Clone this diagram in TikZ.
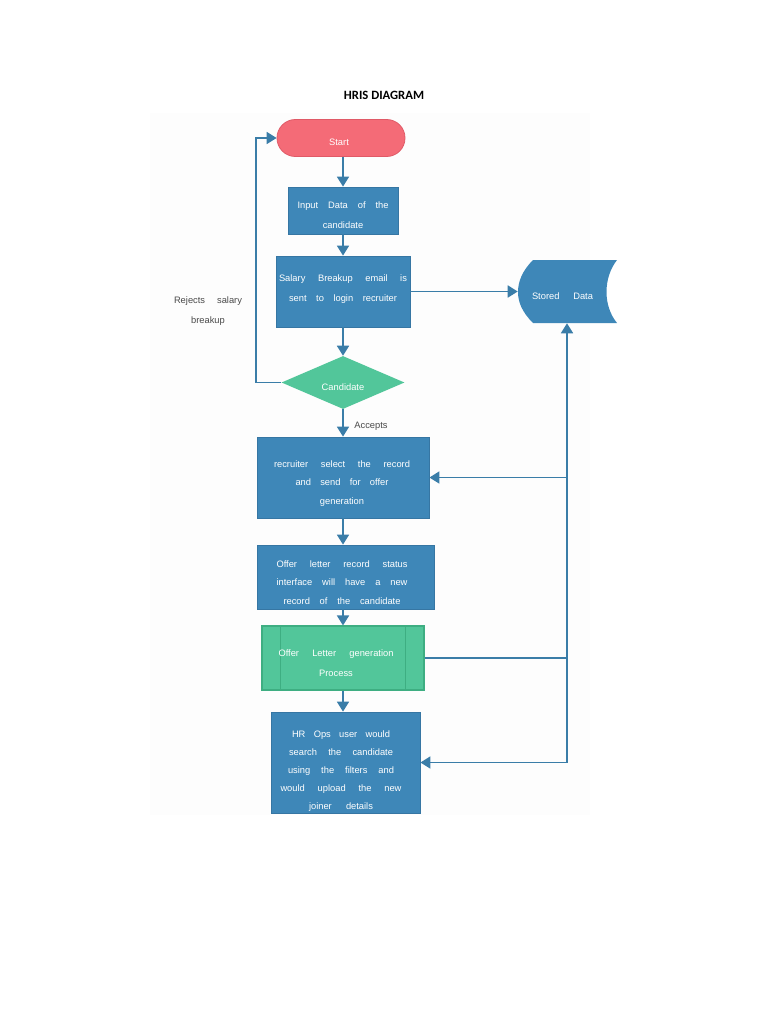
\documentclass[tikz,border=0pt]{standalone}
\usepackage{fontspec}
\setmainfont{Liberation Sans}
\newfontfamily\titlefont{Carlito}
\usetikzlibrary{arrows.meta,shapes.geometric}

\definecolor{boxblue}{HTML}{3E87B8}
\definecolor{boxedge}{HTML}{3676A3}
\definecolor{flowline}{HTML}{3A7DA8}
\definecolor{boxgreen}{HTML}{52C69A}
\definecolor{greenedge}{HTML}{3EAE82}
\definecolor{startred}{HTML}{F46B77}
\definecolor{startedge}{HTML}{E05A67}
\definecolor{labelgray}{HTML}{4A4A4A}

\begin{document}
\begin{tikzpicture}[x=0.75pt,y=-0.75pt,>={Triangle[width=9pt,length=7.5pt]},
	every node/.style={font=\fontsize{7}{15}\selectfont,text=white,align=center,inner sep=0pt},
	bluebox/.style={rectangle,draw=boxedge,fill=boxblue,line width=0.6pt},
	greenbox/.style={rectangle,draw=greenedge,fill=boxgreen,line width=0.8pt},
	startbox/.style={rectangle,rounded corners=13.8pt,draw=startedge,fill=startred,line width=0.6pt},
	decision/.style={diamond,shape aspect=2.3,fill=boxgreen},
	note/.style={text=labelgray},
	flow/.style={draw=flowline,line width=1.3pt,->},
	bus/.style={draw=flowline,line width=1.3pt}]

\def\spread#1#2{\makebox[#1][s]{#2}}

\useasboundingbox (0,0) rectangle (768,1024);
\fill[black!0.8] (150,113) rectangle (590,815);

\node[text=black,font={\titlefont\bfseries\fontsize{9.5}{11}\selectfont}] (title) at (384,95) {HRIS DIAGRAM};

\node[startbox,minimum width=96pt,minimum height=27.75pt] (start) at (341,138) {};
\node (starttext) at (339,142) {Start};

\node[bluebox,minimum width=82.5pt,minimum height=35.25pt] (input) at (343,210.5) {};
\node (inputtext) at (343,215) {\spread{68.25pt}{Input Data of the}\\candidate};

\node[bluebox,minimum width=100.5pt,minimum height=53.25pt] (salary) at (343,291.5) {};
\node (salarytext) at (343,289) {\spread{96pt}{Salary Breakup email is}\\\spread{81pt}{sent to login recruiter}};

\fill[boxblue] (533,260) -- (617,260) .. controls (603,278) and (603,306) .. (617,323) -- (533,323)
	.. controls (522,312) and (518,302) .. (518,292) .. controls (518,282) and (522,271) .. (533,260) -- cycle;
\node[minimum width=73.5pt,minimum height=47.25pt] (stored) at (567,291.5) {};
\node (storedtext) at (562.5,296) {\spread{45.75pt}{Stored Data}};

\node[decision,minimum width=92.25pt,minimum height=39.75pt] (candidate) at (343,382.5) {};
\node (candidatetext) at (343,387) {Candidate};

\node[note] (rejects) at (208,311) {\spread{51pt}{Rejects salary}\\breakup};
\node[note] (accepts) at (371,426) {Accepts};

\node[bluebox,minimum width=129pt,minimum height=60.75pt] (recruiter) at (343,477.5) {};
\node[font=\fontsize{7}{14}\selectfont] (recruitertext) at (342,483.5)
	{\spread{102pt}{recruiter select the record}\\\spread{69.75pt}{and send for offer}\\generation};

\node[bluebox,minimum width=132.75pt,minimum height=48pt] (offer) at (345.5,577) {};
\node[font=\fontsize{7}{14}\selectfont] (offertext) at (342,582.5)
	{\spread{98.25pt}{Offer letter record status}\\\spread{98.25pt}{interface will have a new}\\\spread{87.75pt}{record of the candidate}};

\node[greenbox,minimum width=121.5pt,minimum height=48pt] (process) at (343,658) {};
\draw[greenedge,line width=0.8pt] ([xshift=14.25pt]process.north west) -- ([xshift=14.25pt]process.south west);
\draw[greenedge,line width=0.8pt] ([xshift=-14.25pt]process.north east) -- ([xshift=-14.25pt]process.south east);
\node (processtext) at (336,663) {\spread{86.25pt}{Offer Letter generation}\\Process};

\node[bluebox,minimum width=111.75pt,minimum height=75.75pt] (hr) at (345.5,762.5) {};
\node[font=\fontsize{7}{13.5}\selectfont] (hrtext) at (341,771)
	{\spread{73.5pt}{HR Ops user would}\\\spread{78pt}{search the candidate}\\
	\spread{79.5pt}{using the filters and}\\\spread{90.75pt}{would upload the new}\\\spread{48pt}{joiner details}};

\coordinate (junction) at (stored.south |- process.east);

\draw[flow] (start.south -| input.north) -- (input.north);
\draw[flow] (input.south) -- (salary.north);
\draw[flow] (salary.east) -- (stored.west);
\draw[flow] (salary.south) -- (candidate.north);
\draw[flow] (candidate.west) -- ++(-25,0) |- (start.west);
\draw[flow] (candidate.south) -- (recruiter.north);
\draw[flow] (recruiter.south) -- (recruiter.south |- offer.north);
\draw[flow] (offer.south -| process.north) -- (process.north);
\draw[flow] (process.south) -- (process.south |- hr.north);
\draw[bus] (process.east) -- (junction);
\draw[flow] (junction |- hr.east) -- (stored.south);
\draw[flow] (junction |- recruiter.east) -- (recruiter.east);
\draw[flow] (junction |- hr.east) -- (hr.east);

\end{tikzpicture}
\end{document}
